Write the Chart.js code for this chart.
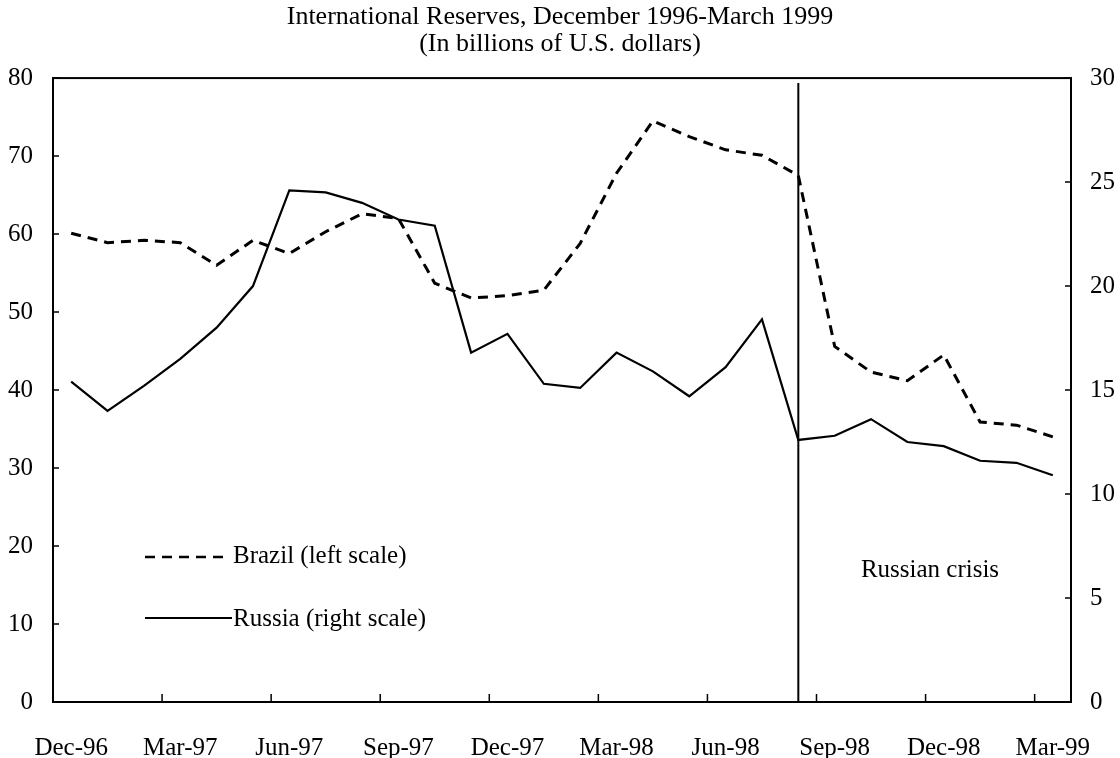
<!DOCTYPE html>
<html lang="en">
<head>
<meta charset="UTF-8">
<title>International Reserves, December 1996-March 1999</title>
<style>
    html, body { margin: 0; padding: 0; background: #fff; }
    #wrap { width: 1120px; height: 758px; }
</style>
</head>
<body>
<div id="wrap"><canvas id="chart" width="1120" height="758"></canvas></div>
<script src="https://cdn.jsdelivr.net/npm/chart.js@4/dist/chart.umd.min.js"></script>
<script>
    // monthly observations, Dec-96 .. Mar-99
    const months = ['Dec-96', 'Jan-97', 'Feb-97', 'Mar-97', 'Apr-97', 'May-97', 'Jun-97', 'Jul-97',
        'Aug-97', 'Sep-97', 'Oct-97', 'Nov-97', 'Dec-97', 'Jan-98', 'Feb-98', 'Mar-98', 'Apr-98',
        'May-98', 'Jun-98', 'Jul-98', 'Aug-98', 'Sep-98', 'Oct-98', 'Nov-98', 'Dec-98', 'Jan-99',
        'Feb-99', 'Mar-99'];

    // Brazil, billions of US$ (left scale)
    const brazil = [60.1, 58.9, 59.2, 58.9, 56.0, 59.2, 57.5, 60.3, 62.6, 62.0, 53.7, 51.8, 52.1,
        52.8, 58.8, 67.8, 74.5, 72.5, 70.8, 70.1, 67.5, 45.6, 42.3, 41.2, 44.5, 35.9, 35.5, 34.0];

    // Russia, billions of US$ (right scale)
    const russia = [15.4, 14.0, 15.2, 16.5, 18.0, 20.0, 24.6, 24.5, 24.0, 23.2, 22.9, 16.8, 17.7,
        15.3, 15.1, 16.8, 15.9, 14.7, 16.1, 18.4, 12.6, 12.8, 13.6, 12.5, 12.3, 11.6, 11.5, 10.9];

    const crisisMonth = 'Aug-98';
    const crisisLabel = 'Russian crisis';
    const titleLines = ['International Reserves, December 1996-March 1999', '(In billions of U.S. dollars)'];

    const serif = "'Liberation Serif', 'Times New Roman', serif";
    Chart.defaults.font.family = serif;
    Chart.defaults.color = '#000';

    // frame, inward tick marks, crisis marker and the in-plot legend
    const decorations = {
        id: 'decorations',
        afterDraw(chart) {
            const ctx = chart.ctx;
            const area = chart.chartArea;
            const xs = chart.scales.x;
            const yl = chart.scales.y;
            const yr = chart.scales.y1;
            ctx.save();
            ctx.strokeStyle = '#000';
            ctx.lineWidth = 2;
            ctx.strokeRect(area.left, area.top, area.right - area.left, area.bottom - area.top);

            ctx.lineWidth = 1.5;
            ctx.beginPath();
            yl.ticks.forEach(t => {
                const y = yl.getPixelForValue(t.value);
                ctx.moveTo(area.left, y);
                ctx.lineTo(area.left + 6, y);
            });
            yr.ticks.forEach(t => {
                const y = yr.getPixelForValue(t.value);
                ctx.moveTo(area.right, y);
                ctx.lineTo(area.right - 6, y);
            });
            for (let i = 3; i < months.length; i += 3) {
                const x = (xs.getPixelForValue(i) + xs.getPixelForValue(i - 1)) / 2;
                ctx.moveTo(x, area.bottom);
                ctx.lineTo(x, area.bottom - 8);
            }
            ctx.stroke();

            // crisis line
            const cx = xs.getPixelForValue(months.indexOf(crisisMonth));
            ctx.lineWidth = 2;
            ctx.beginPath();
            ctx.moveTo(cx, area.top + 5);
            ctx.lineTo(cx, area.bottom);
            ctx.stroke();

            ctx.font = '25px ' + serif;
            ctx.fillStyle = '#000';
            ctx.textBaseline = 'middle';
            ctx.textAlign = 'center';
            ctx.fillText(crisisLabel, 930, 570);

            // legend
            ctx.textAlign = 'left';
            const ds = chart.data.datasets;
            ctx.lineWidth = 2.5;
            ctx.setLineDash([10, 7]);
            ctx.beginPath();
            ctx.moveTo(145, 557);
            ctx.lineTo(229, 557);
            ctx.stroke();
            ctx.setLineDash([]);
            ctx.lineWidth = 2;
            ctx.beginPath();
            ctx.moveTo(145, 618);
            ctx.lineTo(232, 618);
            ctx.stroke();
            ctx.fillText(ds[0].label, 233, 556);
            ctx.fillText(ds[1].label, 233, 619);
            ctx.restore();
        }
    };

    new Chart(document.getElementById('chart'), {
        type: 'line',
        data: {
            labels: months,
            datasets: [
                {
                    label: 'Brazil (left scale)',
                    data: brazil,
                    yAxisID: 'y',
                    borderColor: '#000',
                    borderWidth: 3,
                    borderDash: [10, 7],
                    pointRadius: 0,
                    tension: 0
                },
                {
                    label: 'Russia (right scale)',
                    data: russia,
                    yAxisID: 'y1',
                    borderColor: '#000',
                    borderWidth: 2.2,
                    pointRadius: 0,
                    tension: 0
                }
            ]
        },
        options: {
            responsive: false,
            animation: false,
            devicePixelRatio: 1,
            layout: { padding: 0 },
            plugins: {
                legend: { display: false },
                tooltip: { enabled: false },
                title: {
                    display: true,
                    text: titleLines,
                    color: '#000',
                    font: { size: 26, weight: 'normal', lineHeight: 1.04 },
                    padding: { top: 4, bottom: 20 }
                }
            },
            scales: {
                x: {
                    type: 'category',
                    offset: true,
                    grid: { display: false },
                    border: { display: false },
                    ticks: {
                        autoSkip: false,
                        maxRotation: 0,
                        padding: 23,
                        font: { size: 25 },
                        callback: function (value, index) {
                            return index % 3 === 0 ? months[index] : '';
                        }
                    },
                    afterFit: s => { s.height = 56; }
                },
                y: {
                    position: 'left',
                    min: 0,
                    max: 80,
                    grid: { display: false },
                    border: { display: false },
                    ticks: { stepSize: 10, padding: 12, font: { size: 25 } },
                    afterFit: s => { s.width = 53; }
                },
                y1: {
                    position: 'right',
                    min: 0,
                    max: 30,
                    grid: { display: false },
                    border: { display: false },
                    ticks: { stepSize: 5, padding: 11, font: { size: 25 } },
                    afterFit: s => { s.width = 49; }
                }
            }
        },
        plugins: [decorations]
    });
</script>
</body>
</html>
